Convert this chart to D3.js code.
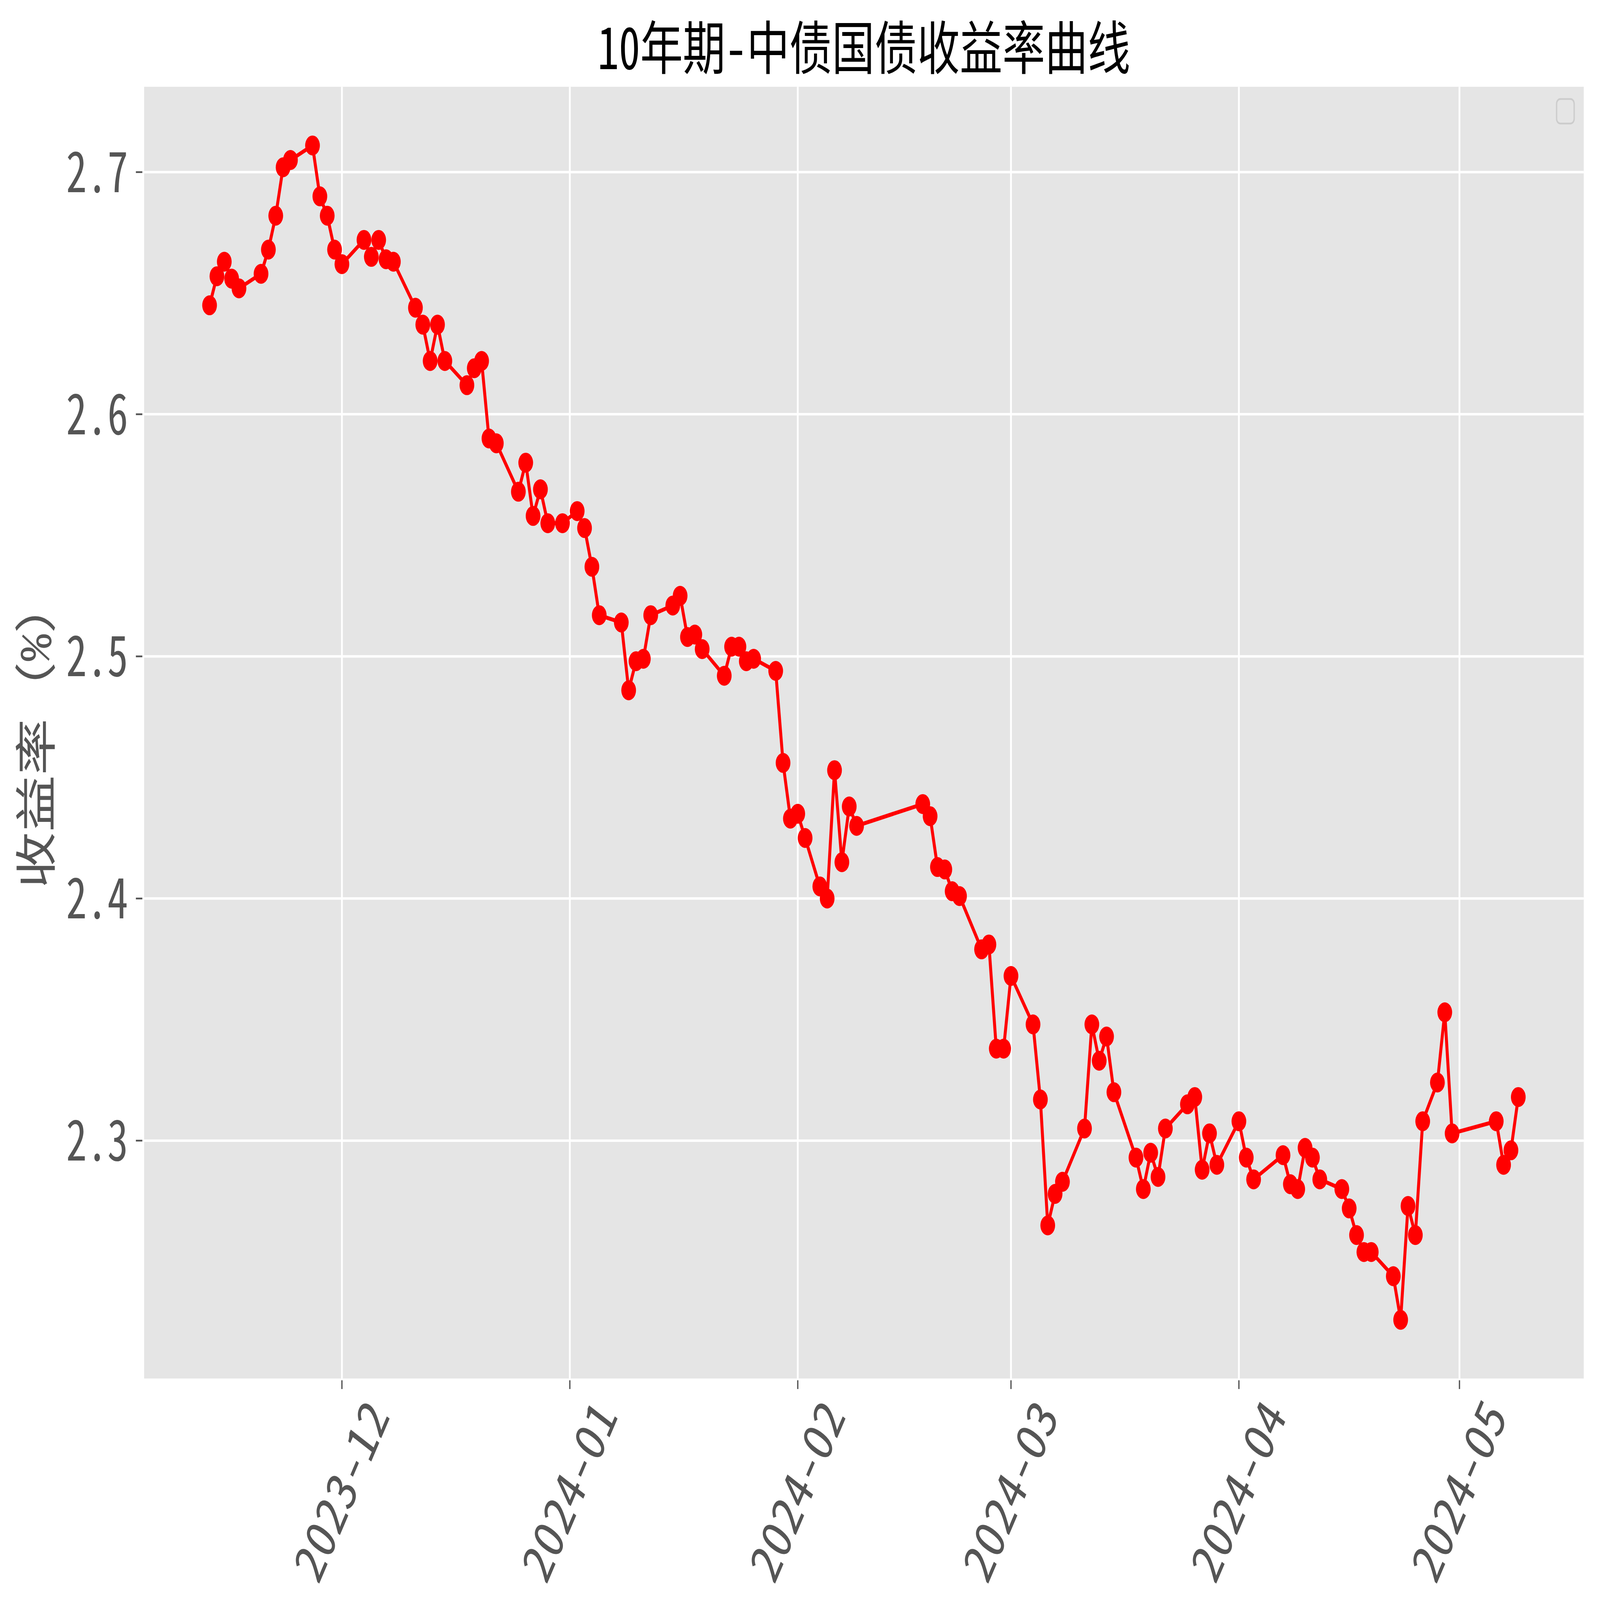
<!DOCTYPE html>
<html>
<head>
<meta charset="utf-8">
<script src="https://cdn.jsdelivr.net/npm/d3@7"></script>
<style>
    html, body { margin: 0; padding: 0; background: #ffffff; overflow: hidden; }
    #chart { width: 100vw; height: 100vh; }
    svg { display: block; width: 100%; height: 100%; }
</style>
</head>
<body>
<div id="chart"></div>
<script>
    // 10-year ChinaBond treasury yields (trading days)
    const dates = [
        "2023-11-13", "2023-11-14", "2023-11-15", "2023-11-16", "2023-11-17", "2023-11-20", "2023-11-21",
        "2023-11-22", "2023-11-23", "2023-11-24", "2023-11-27", "2023-11-28", "2023-11-29", "2023-11-30",
        "2023-12-01", "2023-12-04", "2023-12-05", "2023-12-06", "2023-12-07", "2023-12-08", "2023-12-11",
        "2023-12-12", "2023-12-13", "2023-12-14", "2023-12-15", "2023-12-18", "2023-12-19", "2023-12-20",
        "2023-12-21", "2023-12-22", "2023-12-25", "2023-12-26", "2023-12-27", "2023-12-28", "2023-12-29",
        "2023-12-31",
        "2024-01-02", "2024-01-03", "2024-01-04", "2024-01-05", "2024-01-08", "2024-01-09", "2024-01-10",
        "2024-01-11", "2024-01-12", "2024-01-15", "2024-01-16", "2024-01-17", "2024-01-18", "2024-01-19",
        "2024-01-22", "2024-01-23", "2024-01-24", "2024-01-25", "2024-01-26", "2024-01-29", "2024-01-30",
        "2024-01-31",
        "2024-02-01", "2024-02-02", "2024-02-04", "2024-02-05", "2024-02-06", "2024-02-07", "2024-02-08",
        "2024-02-09", "2024-02-18", "2024-02-19", "2024-02-20", "2024-02-21", "2024-02-22", "2024-02-23",
        "2024-02-26", "2024-02-27", "2024-02-28", "2024-02-29",
        "2024-03-01", "2024-03-04", "2024-03-05", "2024-03-06", "2024-03-07", "2024-03-08", "2024-03-11",
        "2024-03-12", "2024-03-13", "2024-03-14", "2024-03-15", "2024-03-18", "2024-03-19", "2024-03-20",
        "2024-03-21", "2024-03-22", "2024-03-25", "2024-03-26", "2024-03-27", "2024-03-28", "2024-03-29",
        "2024-04-01", "2024-04-02", "2024-04-03", "2024-04-07", "2024-04-08", "2024-04-09", "2024-04-10",
        "2024-04-11", "2024-04-12", "2024-04-15", "2024-04-16", "2024-04-17", "2024-04-18", "2024-04-19",
        "2024-04-22", "2024-04-23", "2024-04-24", "2024-04-25", "2024-04-26", "2024-04-28", "2024-04-29",
        "2024-04-30",
        "2024-05-06", "2024-05-07", "2024-05-08", "2024-05-09"
    ];

    const yields = [
        2.645, 2.657, 2.663, 2.656, 2.652, 2.658, 2.668, 2.682, 2.702, 2.705, 2.711, 2.690, 2.682, 2.668,
        2.662, 2.672, 2.665, 2.672, 2.664, 2.663, 2.644, 2.637, 2.622, 2.637, 2.622, 2.612, 2.619, 2.622,
        2.590, 2.588, 2.568, 2.580, 2.558, 2.569, 2.555, 2.555,
        2.560, 2.553, 2.537, 2.517, 2.514, 2.486, 2.498, 2.499, 2.517, 2.521, 2.525, 2.508, 2.509, 2.503,
        2.492, 2.504, 2.504, 2.498, 2.499, 2.494, 2.456, 2.433,
        2.435, 2.425, 2.405, 2.400, 2.453, 2.415, 2.438, 2.430, 2.439, 2.434, 2.413, 2.412, 2.403, 2.401,
        2.379, 2.381, 2.338, 2.338,
        2.368, 2.348, 2.317, 2.265, 2.278, 2.283, 2.305, 2.348, 2.333, 2.343, 2.320, 2.293, 2.280, 2.295,
        2.285, 2.305, 2.315, 2.318, 2.288, 2.303, 2.290,
        2.308, 2.293, 2.284, 2.294, 2.282, 2.280, 2.297, 2.293, 2.284, 2.280, 2.272, 2.261, 2.254, 2.254,
        2.244, 2.226, 2.273, 2.261, 2.308, 2.324, 2.353, 2.303,
        2.308, 2.290, 2.296, 2.318
    ];

    const yTicks = [2.3, 2.4, 2.5, 2.6, 2.7];
    const xTickFormat = "%Y-%m";

    const titleText = "10年期-中债国债收益率曲线";
    const yLabelText = "收益率（%）";

    document.addEventListener('DOMContentLoaded', function() {
        drawChart();
    });

    function drawChart() {
        const width = 6194;
        const height = 4573;
        const margin = { top: 248, right: 63, bottom: 633, left: 558 };
        const plotW = width - margin.left - margin.right;
        const plotH = height - margin.top - margin.bottom;

        const fontFamily = '"Noto Sans Mono CJK SC", "Noto Sans CJK SC", "DejaVu Sans Mono", monospace';
        const textColor = "#555555";

        const parse = d3.timeParse("%Y-%m-%d");
        const data = dates.map((d, i) => ({ date: parse(d), value: yields[i] }));

        // Same 5% padding matplotlib uses
        const xExt = d3.extent(data, d => d.date);
        const xPad = (xExt[1] - xExt[0]) * 0.05;
        const yExt = d3.extent(data, d => d.value);
        const yPad = (yExt[1] - yExt[0]) * 0.05;

        const x = d3.scaleTime()
            .domain([new Date(+xExt[0] - xPad), new Date(+xExt[1] + xPad)])
            .range([0, plotW]);

        const y = d3.scaleLinear()
            .domain([yExt[0] - yPad, yExt[1] + yPad])
            .range([plotH, 0]);

        // Fill the whole window whatever its shape
        const svg = d3.select("#chart")
            .append("svg")
            .attr("viewBox", `0 0 ${width} ${height}`)
            .attr("preserveAspectRatio", "none");

        svg.append("rect")
            .attr("width", width)
            .attr("height", height)
            .attr("fill", "#ffffff");

        const g = svg.append("g")
            .attr("transform", `translate(${margin.left},${margin.top})`);

        // Plot background
        g.append("rect")
            .attr("width", plotW)
            .attr("height", plotH)
            .attr("fill", "#e5e5e5");

        const xTicks = x.ticks(d3.timeMonth.every(1));

        // Grid lines
        g.append("g")
            .selectAll("line")
            .data(yTicks)
            .enter()
            .append("line")
            .attr("x1", 0)
            .attr("x2", plotW)
            .attr("y1", d => y(d))
            .attr("y2", d => y(d))
            .attr("stroke", "#ffffff")
            .attr("stroke-width", 7);

        g.append("g")
            .selectAll("line")
            .data(xTicks)
            .enter()
            .append("line")
            .attr("x1", d => x(d))
            .attr("x2", d => x(d))
            .attr("y1", 0)
            .attr("y2", plotH)
            .attr("stroke", "#ffffff")
            .attr("stroke-width", 7);

        // Y axis ticks and labels
        const yAxis = g.append("g");
        yAxis.selectAll("line")
            .data(yTicks)
            .enter()
            .append("line")
            .attr("x1", -32)
            .attr("x2", -7)
            .attr("y1", d => y(d))
            .attr("y2", d => y(d))
            .attr("stroke", textColor)
            .attr("stroke-width", 5);

        yAxis.selectAll("text")
            .data(yTicks)
            .enter()
            .append("text")
            .attr("x", -62)
            .attr("y", d => y(d) + 57)
            .attr("text-anchor", "end")
            .style("font-family", fontFamily)
            .style("font-size", "160px")
            .style("font-weight", 500)
            .style("fill", textColor)
            .text(d => d3.format(".1f")(d));

        // X axis ticks and rotated labels
        const xAxis = g.append("g");
        xAxis.selectAll("line")
            .data(xTicks)
            .enter()
            .append("line")
            .attr("x1", d => x(d))
            .attr("x2", d => x(d))
            .attr("y1", plotH + 5)
            .attr("y2", plotH + 30)
            .attr("stroke", textColor)
            .attr("stroke-width", 5);

        const labelCy = plotH + 322;
        xAxis.selectAll("text")
            .data(xTicks)
            .enter()
            .append("text")
            .attr("x", d => x(d))
            .attr("y", labelCy)
            .attr("dy", "0.35em")
            .attr("text-anchor", "middle")
            .attr("transform", d => `rotate(-60,${x(d)},${labelCy})`)
            .style("font-family", fontFamily)
            .style("font-size", "160px")
            .style("font-weight", 500)
            .style("fill", textColor)
            .text(d => d3.timeFormat(xTickFormat)(d));

        // Series line
        const line = d3.line()
            .x(d => x(d.date))
            .y(d => y(d.value));

        g.append("path")
            .datum(data)
            .attr("fill", "none")
            .attr("stroke", "#ff0000")
            .attr("stroke-width", 11.5)
            .attr("stroke-linejoin", "round")
            .attr("d", line);

        // Markers
        g.append("g")
            .selectAll("circle")
            .data(data)
            .enter()
            .append("circle")
            .attr("cx", d => x(d.date))
            .attr("cy", d => y(d.value))
            .attr("r", 28.5)
            .attr("fill", "#ff0000");

        // Empty legend box (no labelled handles)
        g.append("rect")
            .attr("x", plotW - 105)
            .attr("y", 35)
            .attr("width", 68)
            .attr("height", 70)
            .attr("rx", 14)
            .attr("fill", "#e5e5e5")
            .attr("stroke", "#cccccc")
            .attr("stroke-width", 5);

        // Title
        svg.append("text")
            .attr("x", margin.left + plotW / 2)
            .attr("y", 198)
            .attr("text-anchor", "middle")
            .style("font-family", fontFamily)
            .style("font-size", "165px")
            .style("font-weight", 500)
            .style("fill", "#000000")
            .text(titleText);

        // Y axis label
        svg.append("text")
            .attr("transform", `translate(198,${margin.top + plotH / 2}) rotate(-90)`)
            .attr("text-anchor", "middle")
            .style("font-family", fontFamily)
            .style("font-size", "162px")
            .style("font-weight", 500)
            .style("fill", textColor)
            .text(yLabelText);
    }
</script>
</body>
</html>
